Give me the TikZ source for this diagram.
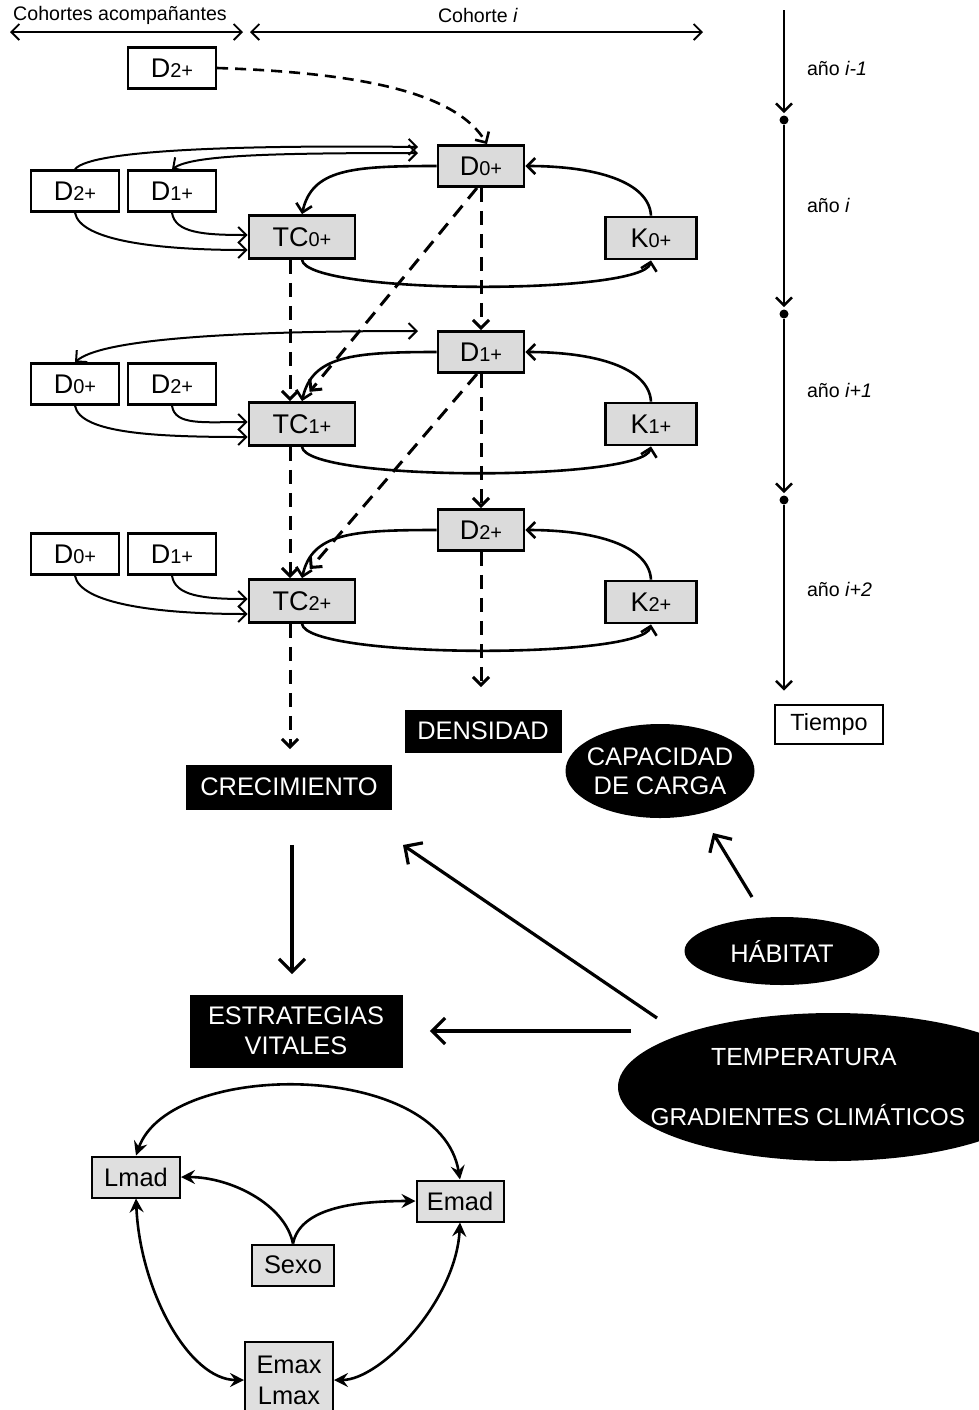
\documentclass[tikz,border=0pt]{standalone}
\usepackage{fontspec}
\setmainfont{Liberation Sans}
\usetikzlibrary{arrows.meta,shapes.geometric,calc}
\newcommand\lbl[2]{{\fontsize{13.5}{15}\selectfont #1}{\fontsize{10}{12}\selectfont #2}}
\begin{document}
\begin{tikzpicture}[x=0.5pt,y=0.5pt,
  >={Straight Barb[length=4pt,width=8pt]},
  wbox/.style={draw,line width=1.2pt,fill=white,minimum width=44pt,minimum height=20.5pt,inner sep=0pt},
  gbox/.style={draw,line width=1.4pt,fill=gray!28,inner sep=0pt,minimum height=20.5pt},
  dbox/.style={gbox,minimum width=43pt},
  tcbox/.style={gbox,minimum width=53pt,minimum height=21.5pt},
  kbox/.style={gbox,minimum width=45.5pt,minimum height=21pt},
  bbox/.style={fill=black,text=white,inner sep=0pt,font=\fontsize{12.7}{15}\selectfont,align=center},
  bell/.style={ellipse,fill=black,inner sep=0pt},
  wtxt/.style={text=white,font=\fontsize{12.7}{14.5}\selectfont,align=center},
  lbox/.style={draw,line width=1pt,fill=gray!25,inner sep=0pt,minimum height=20.5pt,font=\fontsize{12.7}{15.5}\selectfont,align=center},
  hdr/.style={font=\fontsize{9.8}{12}\selectfont},
  yr/.style={anchor=west,font=\fontsize{9.8}{12}\selectfont},
  thinln/.style={line width=0.9pt},
  cyc/.style={line width=1.3pt},
  lng/.style={line width=1pt},
  dsh/.style={line width=1.5pt,dash pattern=on 7pt off 4.5pt},
  dshtop/.style={line width=1.3pt,dash pattern=on 5.5pt off 3.5pt},
  tl/.style={line width=1.2pt},
  big/.style={line width=1.6pt,>={Straight Barb[length=6.5pt,width=13pt]}},
  lb/.style={line width=1.3pt,>={Stealth[length=7pt,width=7pt,inset=2.5pt]}},
  dot/.style={circle,fill=black,inner sep=0pt,minimum size=4.5pt}
]
\useasboundingbox (0,0) rectangle (979,-1410);

% header
\node[hdr] (h1) at (120,-15) {Cohortes acompañantes};
\node[hdr] (h2) at (478,-15) {Cohorte \textit{i}};
\coordinate (h1a) at (10,-32);
\coordinate (h1b) at (243,-32);
\coordinate (h2a) at (250,-32);
\coordinate (h2b) at (703,-32);
\draw[thinln,<->] (h1a) -- (h1b);
\draw[thinln,<->] (h2a) -- (h2b);

% timeline
\coordinate (t0) at (784,-10);
\node[dot] (d1) at (784,-120) {};
\node[dot] (d2) at (784,-314) {};
\node[dot] (d3) at (784,-500) {};
\node[draw,line width=1pt,minimum width=54pt,minimum height=19.5pt,inner sep=0pt,font=\fontsize{11.7}{14}\selectfont] (tiem) at (829,-724) {Tiempo};
\draw[tl,->,shorten >=1pt] (t0) -- (d1);
\draw[tl,->,shorten >=1pt] (d1) -- (d2);
\draw[tl,->,shorten >=1pt] (d2) -- (d3);
\draw[tl,->,shorten >=6.5pt] (d3) -- (d3 |- tiem.north);
\node[yr] (y1) at (800,-68) {año \textit{i-1}};
\node[yr] (y2) at (800,-205) {año \textit{i}};
\node[yr] (y3) at (800,-390) {año \textit{i+1}};
\node[yr] (y4) at (800,-589) {año \textit{i+2}};

% top
\node[wbox] (T2) at (172,-68) {\lbl{D}{2+}};

% rows
\node[dbox] (D0) at (481,-166) {\lbl{D}{0+}};
\node[tcbox] (TC0) at (302,-237) {\lbl{TC}{0+}};
\node[kbox] (K0) at (651,-238) {\lbl{K}{0+}};
\node[wbox] (A02) at (75,-191) {\lbl{D}{2+}};
\node[wbox] (A01) at (172,-191) {\lbl{D}{1+}};

\node[dbox] (D1) at (481,-352) {\lbl{D}{1+}};
\node[tcbox] (TC1) at (302,-424) {\lbl{TC}{1+}};
\node[kbox] (K1) at (651,-424) {\lbl{K}{1+}};
\node[wbox] (A10) at (75,-384) {\lbl{D}{0+}};
\node[wbox] (A12) at (172,-384) {\lbl{D}{2+}};

\node[dbox] (D2) at (481,-530) {\lbl{D}{2+}};
\node[tcbox] (TC2) at (302,-601) {\lbl{TC}{2+}};
\node[kbox] (K2) at (651,-602) {\lbl{K}{2+}};
\node[wbox] (A20) at (75,-554) {\lbl{D}{0+}};
\node[wbox] (A21) at (172,-554) {\lbl{D}{1+}};

% black nodes
\node[bbox,minimum width=78.5pt,minimum height=21.5pt] (DEN) at (483,-731) {DENSIDAD};
\node[bbox,minimum width=103pt,minimum height=22.5pt] (CRE) at (289,-787) {CRECIMIENTO};
\node[bbox,minimum width=106.5pt,minimum height=36.5pt] (EST) at (296,-1031) {ESTRATEGIAS\\VITALES};
\node[bell,minimum width=94.5pt,minimum height=47pt] (CAP) at (660,-771) {};
\node[wtxt] (capT) at (CAP) {CAPACIDAD\\DE CARGA};
\node[bell,minimum width=97.5pt,minimum height=34pt] (HAB) at (782,-951) {};
\node[wtxt] (habT) at (HAB) {HÁBITAT};
\node[bell,minimum width=215pt,minimum height=74pt] (TEMP) at (833,-1087) {};
\node[wtxt,font=\fontsize{12.4}{14.5}\selectfont] (tempT1) at (804,-1057) {TEMPERATURA};
\node[wtxt,font=\fontsize{12.2}{14.5}\selectfont] (tempT2) at (808,-1115) {GRADIENTES CLIMÁTICOS};

% bottom boxes
\node[lbox,minimum width=44pt] (Lmad) at (136,-1177) {Lmad};
\node[lbox,minimum width=43.5pt] (Emad) at (460,-1201) {Emad};
\node[lbox,minimum width=41pt] (Sexo) at (293,-1265) {Sexo};
\node[lbox,minimum width=44pt,minimum height=38pt] (EL) at (289,-1380) {Emax\\Lmax};

% cycles
\foreach \r in {0,1,2} {
  \draw[cyc,->] (D\r.west) .. controls +(-85,0) and +(10,45) .. (TC\r.north);
  \draw[cyc,->] (K\r.north) .. controls +(-2,34) and +(70,0) .. (D\r.east);
  \draw[cyc,->] (TC\r.south) .. controls +(5,-35) and +(-8,-35) .. (K\r.south);
}

% long arcs
\coordinate (e0a) at (418,-147);
\coordinate (e0b) at (418,-153);
\coordinate (e1) at (418,-331);
\draw[lng,->] (A02.north) .. controls +(15,20) and +(-170,2) .. (e0a);
\draw[lng,<->] (A01.north) .. controls +(20,14) and +(-150,0) .. (e0b);
\draw[lng,<->] (A10.north) .. controls +(25,22) and +(-200,0) .. (e1);

% short arcs into TC
\draw[lng,->] (A02.south) .. controls +(5,-28) and +(-90,0) .. ([yshift=-6.5pt]TC0.west);
\draw[lng,->] (A01.south) .. controls +(3,-20) and +(-45,0) .. ([yshift=1pt]TC0.west);
\draw[lng,->] (A10.south) .. controls +(5,-28) and +(-90,0) .. ([yshift=-6.5pt]TC1.west);
\draw[lng,->] (A12.south) .. controls +(3,-20) and +(-45,0) .. ([yshift=1pt]TC1.west);
\draw[lng,->] (A20.south) .. controls +(5,-28) and +(-90,0) .. ([yshift=-6.5pt]TC2.west);
\draw[lng,->] (A21.south) .. controls +(3,-20) and +(-45,0) .. ([yshift=1pt]TC2.west);

% dashed
\draw[dshtop,->] (T2.east) .. controls +(150,-5) and +(-30,50) .. ([xshift=3pt]D0.north);
\draw[dsh,->] ([xshift=-6pt]TC0.south) -- ([xshift=-6pt]TC1.north);
\draw[dsh,->] ([xshift=-6pt]TC1.south) -- ([xshift=-6pt]TC2.north);
\draw[dsh,->,shorten >=7.5pt] ([xshift=-6pt]TC2.south) -- ([xshift=-6pt]TC2.south |- CRE.north);
\draw[dsh,->] (D0.south) -- (D1.north);
\draw[dsh,->] (D1.south) -- (D2.north);
\draw[dsh,->,shorten >=11pt] (D2.south) -- (D2.south |- DEN.north);
\draw[dsh,->,shorten >=6pt] ([xshift=-2pt]D0.south) -- (TC1.north);
\draw[dsh,->,shorten >=6pt] ([xshift=-2pt]D1.south) -- (TC2.north);

% big arrows
\coordinate (tA) at (657,-1018);
\coordinate (tB) at (403,-845);
\coordinate (tC) at (631,-1031);
\coordinate (hA) at (752,-897);
\coordinate (hB) at (713,-833);
\draw[big,->] ([xshift=1.5pt,yshift=-17.5pt]CRE.south) -- ([xshift=-2pt,yshift=10pt]EST.north);
\draw[big,->] (tA) -- (tB);
\draw[big,->,shorten >=13.5pt] (tC) -- (EST.east);
\draw[big,->] (hA) -- (hB);

% bottom connectors
\draw[lb,<->] (Lmad.north) .. controls +(34,96) and +(-20,120) .. (Emad.north);
\draw[lb,->] (Sexo.north) .. controls +(-8,39) and +(50,0) .. (Lmad.east);
\draw[lb,->] (Sexo.north) .. controls +(7,34) and +(-66,0) .. (Emad.west);
\draw[lb,<->] (Lmad.south) .. controls +(4,-92) and +(-55,0) .. (EL.west);
\draw[lb,<->] (Emad.south) .. controls +(-4,-78) and +(47,0) .. (EL.east);
\end{tikzpicture}
\end{document}
